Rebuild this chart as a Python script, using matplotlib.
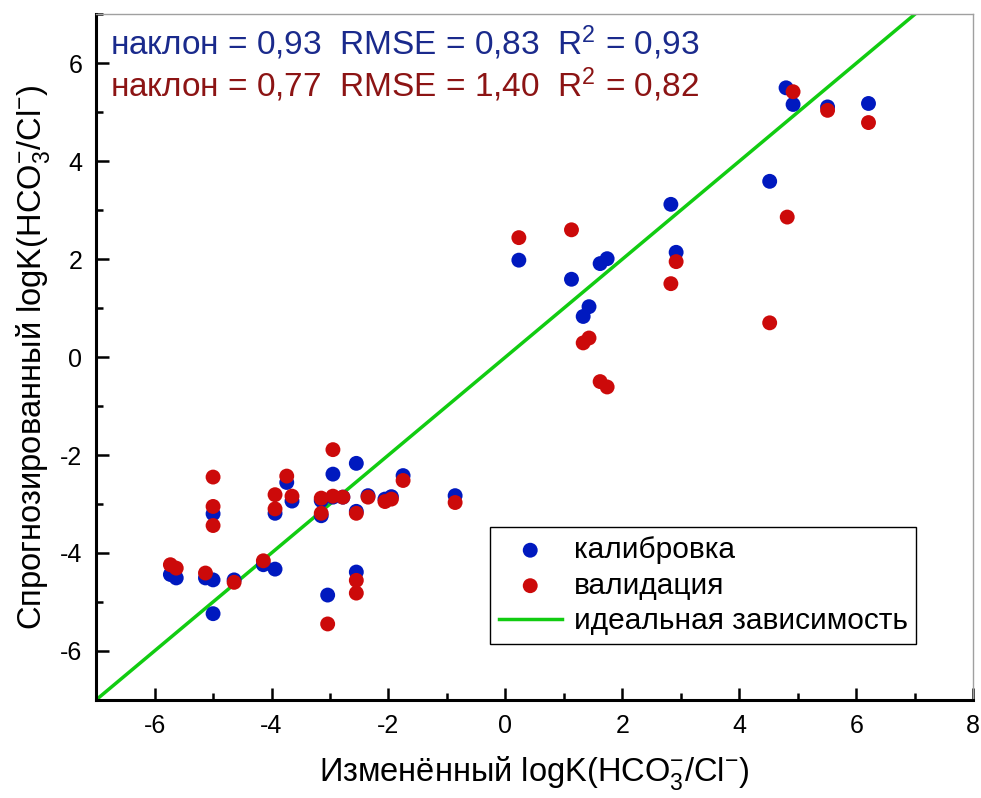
"""
Predicted vs modified logK(HCO3-/Cl-) for calibration and validation sets.
"""

import matplotlib

matplotlib.use("Agg")

import matplotlib.pyplot as plt

plt.rcParams["font.family"] = ["Liberation Sans", "DejaVu Sans"]
plt.rcParams["mathtext.fontset"] = "custom"
plt.rcParams["mathtext.rm"] = "Liberation Sans"
plt.rcParams["mathtext.it"] = "Liberation Sans:italic"
plt.rcParams["mathtext.bf"] = "Liberation Sans:bold"
plt.rcParams["axes.unicode_minus"] = False

# calibration (blue)
CAL_X = [-5.73, -5.63, -5.13, -5.0, -5.0, -5.0, -4.64, -4.14, -3.94, -3.94,
         -3.74, -3.65, -3.15, -3.15, -3.04, -2.95, -2.95, -2.78, -2.55, -2.55,
         -2.55, -2.35, -2.06, -1.95, -1.75, -0.86, 0.23, 1.13, 1.33, 1.43,
         1.62, 1.74, 2.83, 2.92, 4.52, 4.80, 4.92, 5.51, 6.21]
CAL_Y = [-4.44, -4.51, -4.51, -4.55, -3.20, -5.24, -4.55, -4.24, -3.19, -4.33,
         -2.56, -2.94, -2.93, -3.24, -4.86, -2.39, -2.86, -2.86, -2.17, -3.15,
         -4.39, -2.83, -2.90, -2.85, -2.42, -2.83, 1.98, 1.59, 0.83, 1.03,
         1.91, 2.01, 3.12, 2.14, 3.59, 5.50, 5.16, 5.11, 5.18]

# validation (red)
VAL_X = [-5.73, -5.63, -5.13, -5.0, -5.0, -5.0, -4.64, -4.14, -3.94, -3.94,
         -3.74, -3.65, -3.15, -3.15, -3.04, -2.95, -2.95, -2.78, -2.55, -2.55,
         -2.55, -2.35, -2.06, -1.95, -1.75, -0.86, 0.23, 1.13, 1.33, 1.43,
         1.62, 1.74, 2.83, 2.92, 4.52, 4.82, 4.92, 5.51, 6.21]
VAL_Y = [-4.24, -4.31, -4.41, -2.45, -3.05, -3.44, -4.60, -4.16, -2.81, -3.10,
         -2.43, -2.84, -2.88, -3.19, -5.45, -1.89, -2.84, -2.86, -3.19, -4.56,
         -4.82, -2.86, -2.95, -2.90, -2.52, -2.97, 2.44, 2.60, 0.29, 0.39,
         -0.50, -0.61, 1.50, 1.95, 0.70, 2.86, 5.42, 5.04, 4.79]

IDEAL = [-7, 8]

CAL_STATS = "наклон = 0,93  RMSE = 0,83  R$^2$ = 0,93"
VAL_STATS = "наклон = 0,77  RMSE = 1,40  R$^2$ = 0,82"

BLUE = "#0019bf"
RED = "#cc0a0a"
GREEN = "#11cc11"


def main() -> None:
    fig = plt.figure(figsize=(9.81, 7.98), dpi=100)
    ax = fig.add_axes([0.098, 0.123, 0.894, 0.859])

    ax.plot(IDEAL, IDEAL, color=GREEN, lw=2.5, zorder=1,
            label="идеальная зависимость")
    ax.scatter(CAL_X, CAL_Y, s=115, color=BLUE, edgecolors="none", zorder=2,
               label="калибровка")
    ax.scatter(VAL_X, VAL_Y, s=115, color=RED, edgecolors="none", zorder=3,
               label="валидация")

    ax.set_xlim(-7, 8)
    ax.set_ylim(-7, 7)
    ax.set_xticks(range(-6, 9, 2))
    ax.set_xticks(range(-7, 8, 2), minor=True)
    ax.set_yticks(range(-6, 7, 2))
    ax.set_yticks(range(-7, 8, 2), minor=True)
    ax.tick_params(which="both", direction="in", top=False, right=False,
                   labelsize=18, width=1.8)
    ax.tick_params(which="major", length=9, pad=10)
    ax.tick_params(which="minor", length=5)

    for side in ("left", "bottom"):
        ax.spines[side].set_linewidth(2.2)
        ax.spines[side].set_color("black")
    for side in ("top", "right"):
        ax.spines[side].set_linewidth(1)
        ax.spines[side].set_color("#a0a0a0")

    ax.set_xlabel("Изменённый logK(HCO$_3^{-}$/Cl$^{-}$)", fontsize=23.5,
                  labelpad=12)
    ax.set_ylabel("Спрогнозированный logK(HCO$_3^{-}$/Cl$^{-}$)", fontsize=23.5,
                  labelpad=6)

    ax.text(0.016, 0.959, CAL_STATS, transform=ax.transAxes, fontsize=24,
            color="#1a2a8c", va="center", ha="left")
    ax.text(0.016, 0.897, VAL_STATS, transform=ax.transAxes, fontsize=24,
            color="#8c1414", va="center", ha="left")

    handles, labels = ax.get_legend_handles_labels()
    order = [1, 2, 0]
    leg = ax.legend([handles[i] for i in order], [labels[i] for i in order],
                    loc="upper left", bbox_to_anchor=(0.449, 0.252),
                    borderaxespad=0, fontsize=21.5, fancybox=False,
                    edgecolor="black", framealpha=1, handlelength=2.1,
                    handletextpad=0.4, borderpad=0.3, labelspacing=0.25)
    leg.get_frame().set_linewidth(1)

    fig.savefig("out.png", dpi=100)
    plt.close(fig)


if __name__ == "__main__":
    main()
